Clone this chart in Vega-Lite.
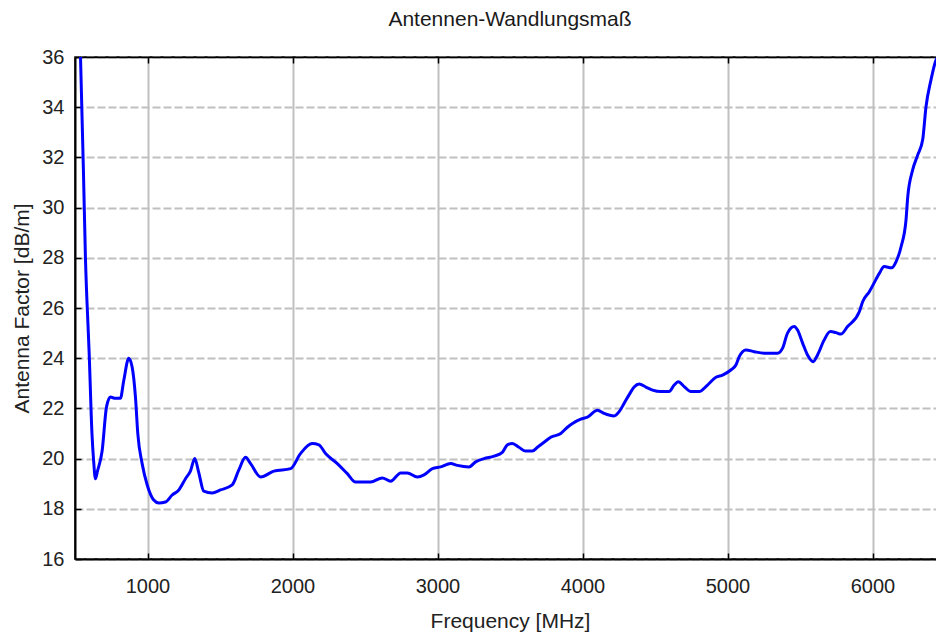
{
  "$schema": "https://vega.github.io/schema/vega-lite/v6.json",
  "width": 870,
  "height": 502,
  "autosize": {"type": "none"},
  "padding": {"left": 75, "top": 57, "right": 0, "bottom": 80},
  "background": "white",
  "title": {"text": "Antennen-Wandlungsmaß", "font": "Liberation Sans", "fontSize": 21, "fontWeight": "normal", "color": "#1a1a1a", "offset": 17, "anchor": "middle"},
  "config": {
    "view": {"stroke": "black", "strokeWidth": 1.5},
    "axis": {"labelFont": "Liberation Sans", "labelFontSize": 20, "labelColor": "#222222", "titleFont": "Liberation Sans", "titleFontSize": 21, "titleFontWeight": "normal", "titleColor": "#222222", "domainColor": "black", "domainWidth": 2, "tickColor": "black", "tickWidth": 1.5}
  },
  "data": {"values": [
    {"f": 538, "v": 36.0}, {"f": 558, "v": 31.5}, {"f": 572, "v": 28.0}, {"f": 592, "v": 25.0}, {"f": 597, "v": 24.3},
    {"f": 617, "v": 21.0}, {"f": 628, "v": 19.95}, {"f": 641, "v": 19.2}, {"f": 655, "v": 19.5}, {"f": 687, "v": 20.3},
    {"f": 717, "v": 22.05}, {"f": 744, "v": 22.45}, {"f": 779, "v": 22.4}, {"f": 813, "v": 22.4}, {"f": 836, "v": 23.1},
    {"f": 871, "v": 24.0}, {"f": 894, "v": 23.65}, {"f": 917, "v": 22.45}, {"f": 933, "v": 21.0}, {"f": 963, "v": 19.8},
    {"f": 998, "v": 18.95}, {"f": 1043, "v": 18.35}, {"f": 1078, "v": 18.23}, {"f": 1124, "v": 18.27}, {"f": 1170, "v": 18.55},
    {"f": 1216, "v": 18.75}, {"f": 1262, "v": 19.2}, {"f": 1296, "v": 19.5}, {"f": 1326, "v": 20.0}, {"f": 1354, "v": 19.43},
    {"f": 1388, "v": 18.7}, {"f": 1446, "v": 18.63}, {"f": 1503, "v": 18.75}, {"f": 1584, "v": 18.95}, {"f": 1630, "v": 19.55},
    {"f": 1676, "v": 20.05}, {"f": 1711, "v": 19.8}, {"f": 1780, "v": 19.27}, {"f": 1871, "v": 19.5}, {"f": 1987, "v": 19.6},
    {"f": 2055, "v": 20.2}, {"f": 2136, "v": 20.6}, {"f": 2182, "v": 20.55}, {"f": 2228, "v": 20.2}, {"f": 2309, "v": 19.8},
    {"f": 2378, "v": 19.4}, {"f": 2435, "v": 19.07}, {"f": 2539, "v": 19.07}, {"f": 2619, "v": 19.23}, {"f": 2677, "v": 19.1},
    {"f": 2746, "v": 19.43}, {"f": 2792, "v": 19.43}, {"f": 2861, "v": 19.27}, {"f": 2907, "v": 19.35}, {"f": 2965, "v": 19.6},
    {"f": 3022, "v": 19.67}, {"f": 3091, "v": 19.8}, {"f": 3137, "v": 19.73}, {"f": 3217, "v": 19.67}, {"f": 3263, "v": 19.87},
    {"f": 3321, "v": 20.0}, {"f": 3390, "v": 20.1}, {"f": 3447, "v": 20.25}, {"f": 3482, "v": 20.55}, {"f": 3516, "v": 20.6},
    {"f": 3562, "v": 20.45}, {"f": 3608, "v": 20.3}, {"f": 3654, "v": 20.3}, {"f": 3689, "v": 20.45}, {"f": 3735, "v": 20.65},
    {"f": 3781, "v": 20.85}, {"f": 3850, "v": 21.0}, {"f": 3896, "v": 21.25}, {"f": 3931, "v": 21.4}, {"f": 3988, "v": 21.57},
    {"f": 4034, "v": 21.65}, {"f": 4103, "v": 21.93}, {"f": 4149, "v": 21.8}, {"f": 4218, "v": 21.7}, {"f": 4253, "v": 21.87},
    {"f": 4287, "v": 22.2}, {"f": 4322, "v": 22.55}, {"f": 4356, "v": 22.85}, {"f": 4391, "v": 22.97}, {"f": 4437, "v": 22.85},
    {"f": 4483, "v": 22.73}, {"f": 4540, "v": 22.67}, {"f": 4597, "v": 22.67}, {"f": 4632, "v": 22.93}, {"f": 4660, "v": 23.06},
    {"f": 4701, "v": 22.87}, {"f": 4747, "v": 22.67}, {"f": 4804, "v": 22.67}, {"f": 4862, "v": 22.93}, {"f": 4920, "v": 23.24},
    {"f": 4966, "v": 23.33}, {"f": 5023, "v": 23.53}, {"f": 5058, "v": 23.73}, {"f": 5081, "v": 24.06}, {"f": 5127, "v": 24.33},
    {"f": 5184, "v": 24.26}, {"f": 5253, "v": 24.2}, {"f": 5345, "v": 24.2}, {"f": 5380, "v": 24.4}, {"f": 5414, "v": 25.0},
    {"f": 5460, "v": 25.26}, {"f": 5483, "v": 25.12}, {"f": 5518, "v": 24.6}, {"f": 5552, "v": 24.13}, {"f": 5591, "v": 23.86},
    {"f": 5621, "v": 24.13}, {"f": 5667, "v": 24.73}, {"f": 5709, "v": 25.06}, {"f": 5748, "v": 25.02}, {"f": 5782, "v": 24.96},
    {"f": 5828, "v": 25.26}, {"f": 5909, "v": 25.85}, {"f": 5932, "v": 26.25}, {"f": 5978, "v": 26.65}, {"f": 6024, "v": 27.14},
    {"f": 6047, "v": 27.38}, {"f": 6081, "v": 27.65}, {"f": 6132, "v": 27.6}, {"f": 6162, "v": 27.84}, {"f": 6197, "v": 28.44},
    {"f": 6231, "v": 29.5}, {"f": 6243, "v": 30.43}, {"f": 6277, "v": 31.5}, {"f": 6312, "v": 32.1}, {"f": 6346, "v": 32.7},
    {"f": 6369, "v": 34.02}, {"f": 6403, "v": 35.08}, {"f": 6438, "v": 35.88}, {"f": 6450, "v": 36.0}
  ]},
  "layer": [
    {
      "mark": {"type": "line", "color": "#0000ff", "strokeWidth": 3, "interpolate": "monotone", "clip": true},
      "encoding": {
        "x": {"field": "f", "type": "quantitative", "scale": {"domain": [500, 6500], "nice": false, "zero": false},
          "axis": {"orient": "bottom", "title": "Frequency [MHz]", "values": [1000, 2000, 3000, 4000, 5000, 6000], "grid": true, "gridColor": "#c0c0c0", "gridWidth": 2, "tickSize": -6, "labelPadding": 23, "titlePadding": 14, "format": "d"}},
        "y": {"field": "v", "type": "quantitative", "scale": {"domain": [16, 36], "nice": false, "zero": false},
          "axis": {"title": "Antenna Factor [dB/m]", "values": [16, 18, 20, 22, 24, 26, 28, 30, 32, 34, 36], "grid": true, "gridColor": "#c0c0c0", "gridWidth": 2, "gridDash": [8, 3], "tickSize": -6, "labelPadding": 17, "titlePadding": 9}}
      }
    },
    {
      "mark": {"type": "point", "opacity": 0},
      "encoding": {
        "x": {"field": "f", "type": "quantitative", "axis": {"orient": "top", "title": null, "labels": false, "grid": false, "values": [1000, 2000, 3000, 4000, 5000, 6000], "tickSize": -6, "domainWidth": 1.5}}
      }
    }
  ],
  "resolve": {"axis": {"x": "independent"}}
}
